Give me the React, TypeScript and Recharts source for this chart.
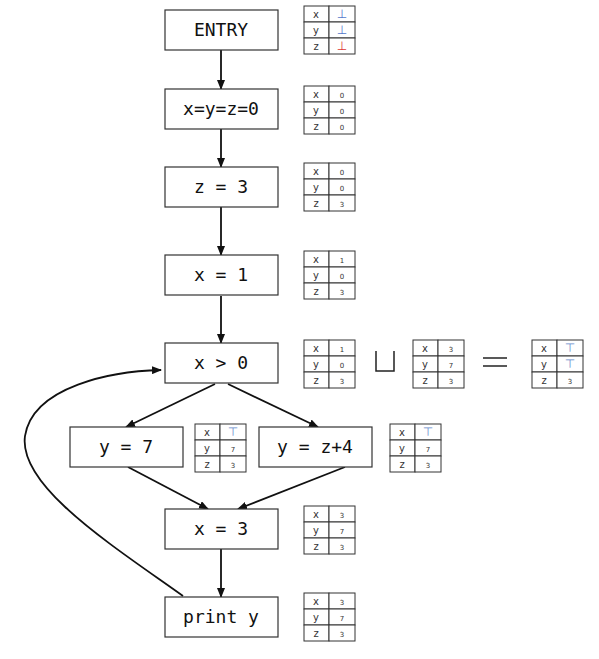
import React from "react";
import { ScatterChart, Scatter, XAxis, YAxis } from "recharts";

const nodeLabels = ["ENTRY", "x=y=z=0", "z = 3", "x = 1", "x > 0", "y = 7", "y = z+4", "x = 3", "print y"];
const nodeX = [221, 221, 221, 221, 221, 126, 315, 221, 221];
const nodeY = [30, 109, 187, 275, 363, 447, 447, 529, 617];

const tableX = [329, 329, 329, 329, 329, 438, 557, 220, 415, 329, 329];
const tableY = [30, 110, 187, 275, 364, 364, 364, 448, 448, 530, 617];
const tableXVal = ["⊥", "0", "0", "1", "1", "3", "⊤", "⊤", "⊤", "3", "3"];
const tableYVal = ["⊥", "0", "0", "0", "0", "7", "⊤", "7", "7", "7", "7"];
const tableZVal = ["⊥", "0", "3", "3", "3", "3", "3", "3", "3", "3", "3"];

const arrowX1 = [221, 221, 221, 221, 215, 228, 128, 345, 221];
const arrowY1 = [50, 129, 207, 296, 384, 384, 467, 467, 549];
const arrowX2 = [221, 221, 221, 221, 126, 318, 208, 238, 221];
const arrowY2 = [89, 167, 255, 343, 427, 427, 509, 509, 597];

const symbolX = [385, 495];
const symbolY = [362, 362];
const symbolText = ["⊔", "="];

const nodes = nodeLabels.map((label, i) => ({ x: nodeX[i], y: nodeY[i], label }));
const tables = tableXVal.map((v, i) => ({ x: tableX[i], y: tableY[i], vals: [v, tableYVal[i], tableZVal[i]], first: i === 0 }));
const arrows = arrowX1.map((x, i) => ({ x, y: arrowY1[i], dx: arrowX2[i] - x, dy: arrowY2[i] - arrowY1[i] }));
const symbols = symbolText.map((t, i) => ({ x: symbolX[i], y: symbolY[i], t }));
const loop = [{ x: 183, y: 596 }];

const NodeShape = (p: any) => (
  <g>
    <rect x={p.cx - 56} y={p.cy - 20} width={113} height={40} fill="#fff" stroke="#333" strokeWidth={1.2} />
    <text x={p.cx} y={p.cy + 6} textAnchor="middle" fontFamily="DejaVu Sans Mono" fontSize={18} fill="#111">{p.payload.label}</text>
  </g>
);

const valColor = (v: string, row: number, first: boolean) => {
  if (v === "⊥") return first && row === 2 ? "#d33" : "#5577cc";
  if (v === "⊤") return "#6688cc";
  return "#333";
};

const TableShape = (p: any) => {
  const x0 = p.cx - 25, y0 = p.cy - 24;
  const names = ["x", "y", "z"];
  return (
    <g>
      {names.map((n, r) => (
        <g key={r}>
          <rect x={x0} y={y0 + r * 16} width={25} height={16} fill="#fff" stroke="#333" strokeWidth={1} />
          <rect x={x0 + 25} y={y0 + r * 16} width={26} height={16} fill="#fff" stroke="#333" strokeWidth={1} />
          <text x={x0 + 12} y={y0 + r * 16 + 12} textAnchor="middle" fontFamily="DejaVu Sans" fontSize={10} fill="#333">{n}</text>
          <text x={x0 + 38} y={y0 + r * 16 + 12} textAnchor="middle" fontFamily="DejaVu Sans" fontSize={p.payload.vals[r].length && /[⊥⊤]/.test(p.payload.vals[r]) ? 12 : 7} fill={valColor(p.payload.vals[r], r, p.payload.first)}>{p.payload.vals[r]}</text>
        </g>
      ))}
    </g>
  );
};

const ArrowShape = (p: any) => {
  const x2 = p.cx + p.payload.dx, y2 = p.cy + p.payload.dy;
  return <line x1={p.cx} y1={p.cy} x2={x2} y2={y2} stroke="#111" strokeWidth={1.8} markerEnd="url(#ah)" />;
};

const SymbolShape = (p: any) => p.payload.t === "⊔" ? (
  <path d={`M${p.cx - 9},${p.cy - 11} V${p.cy + 9} H${p.cx + 9} V${p.cy - 11}`} fill="none" stroke="#222" strokeWidth={1.5} />
) : (
  <g stroke="#222" strokeWidth={1.5}>
    <line x1={p.cx - 12} y1={p.cy - 4} x2={p.cx + 12} y2={p.cy - 4} />
    <line x1={p.cx - 12} y1={p.cy + 4} x2={p.cx + 12} y2={p.cy + 4} />
  </g>
);

const LoopShape = (p: any) => (
  <path d={`M${p.cx},${p.cy} C${p.cx - 70},${p.cy - 50} ${p.cx - 165},${p.cy - 110} ${p.cx - 158},${p.cy - 160} C${p.cx - 150},${p.cy - 210} ${p.cx - 70},${p.cy - 225} ${p.cx - 22},${p.cy - 226}`} fill="none" stroke="#111" strokeWidth={1.8} markerEnd="url(#ah)" />
);

export default function App() {
  return (
    <div style={{ position: "absolute", left: 0, top: 0, background: "#fff" }}>
      <ScatterChart width={599} height={659} margin={{ top: 0, right: 0, bottom: 0, left: 0 }}>
        <defs>
          <marker id="ah" markerWidth="10" markerHeight="8" refX="9" refY="4" orient="auto" markerUnits="userSpaceOnUse">
            <path d="M0,0 L10,4 L0,8 Z" fill="#111" />
          </marker>
        </defs>
        <XAxis type="number" dataKey="x" domain={[0, 599]} hide />
        <YAxis type="number" dataKey="y" domain={[0, 659]} reversed hide width={0} />
        <Scatter data={loop} shape={LoopShape} isAnimationActive={false} />
        <Scatter data={arrows} shape={ArrowShape} isAnimationActive={false} />
        <Scatter data={nodes} shape={NodeShape} isAnimationActive={false} />
        <Scatter data={tables} shape={TableShape} isAnimationActive={false} />
        <Scatter data={symbols} shape={SymbolShape} isAnimationActive={false} />
      </ScatterChart>
    </div>
  );
}
